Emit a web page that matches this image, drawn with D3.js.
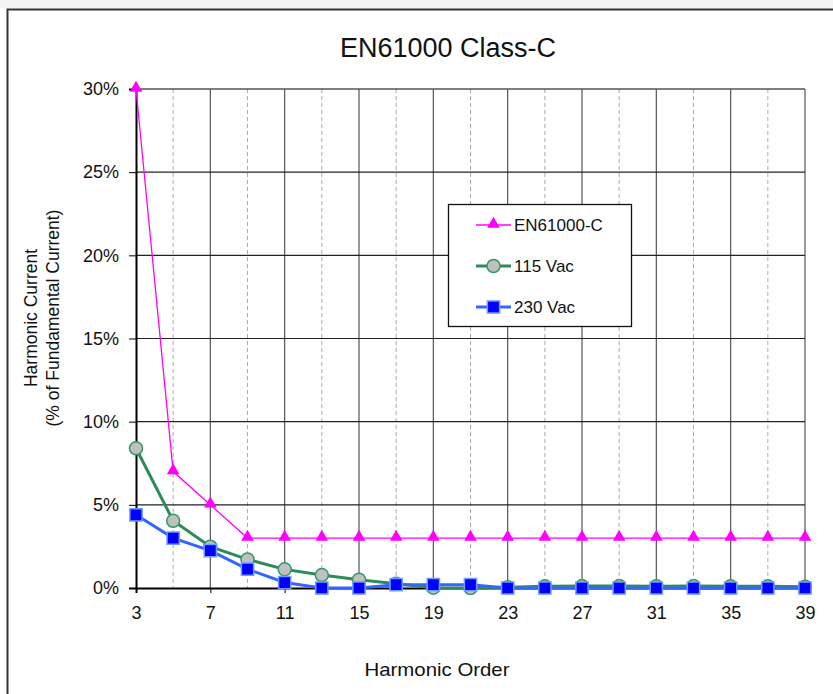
<!DOCTYPE html>
<html><head><meta charset="utf-8">
<script src="https://cdn.jsdelivr.net/npm/d3@7"></script>
<style>html,body{margin:0;padding:0;background:#fff;}svg{display:block;font-family:"Liberation Sans",Arial,sans-serif;}</style>
</head><body><svg id="c" width="833" height="694"></svg>
<script>
const harmonics = [3,5,7,9,11,13,15,17,19,21,23,25,27,29,31,33,35,37,39];
const en61000C = [30,7,5,3,3,3,3,3,3,3,3,3,3,3,3,3,3,3,3];
const vac115 = [8.4,4.04,2.48,1.72,1.12,0.78,0.5,0.25,0.02,0,0.05,0.1,0.12,0.12,0.1,0.12,0.1,0.1,0.08];
const vac230 = [4.4,3.0,2.25,1.13,0.33,0,0,0.2,0.2,0.2,0,0,0,0,0,0,0,0,0];
const xTicks = [3,7,11,15,19,23,27,31,35,39];
const xMinor = [5,9,13,17,21,25,29,33,37];
const yTicks = [0,5,10,15,20,25,30];
const seriesNames = ["EN61000-C","115 Vac","230 Vac"];

const FONT = "Liberation Sans, Arial, sans-serif";
const svg = d3.select("#c");
// page strip + frame
svg.append("rect").attr("x",0).attr("y",0).attr("width",833).attr("height",8).attr("fill","#f3f3f3");
svg.append("path").attr("d","M7.5,694 V9.5 H833").attr("fill","none").attr("stroke","#333").attr("stroke-width",2);

const x = d3.scaleLinear().domain([3,39]).range([136,805]);
const y = d3.scaleLinear().domain([0,30]).range([588,89]);

// grid
const g = svg.append("g");
g.selectAll(".vmin").data(xMinor).join("line")
  .attr("x1",d=>x(d)).attr("x2",d=>x(d)).attr("y1",y(30)).attr("y2",y(0))
  .attr("stroke","#aaa").attr("stroke-width",1).attr("stroke-dasharray","4,3");
g.selectAll(".vmaj").data(xTicks.slice(1)).join("line")
  .attr("x1",d=>x(d)).attr("x2",d=>x(d)).attr("y1",y(30)).attr("y2",y(0))
  .attr("stroke","#555").attr("stroke-width",1.2);
g.selectAll(".h").data(yTicks.slice(1)).join("line")
  .attr("x1",x(3)).attr("x2",x(39)).attr("y1",d=>y(d)).attr("y2",d=>y(d))
  .attr("stroke",(d)=>d===30?"#555":"#222").attr("stroke-width",(d)=>d===30?1.6:1.2);

// axes
const yAxis = d3.axisLeft(y).tickValues(yTicks).tickFormat(d=>d+"%").tickSize(7).tickPadding(10);
const ya = svg.append("g").attr("transform",`translate(${x(3)},0)`).call(yAxis);
ya.select(".domain").attr("stroke","#000").attr("stroke-width",2);
ya.selectAll(".tick line").attr("stroke","#000");
ya.selectAll("text").attr("font-size",18).attr("fill","#111").style("font-family",FONT);

const xAxis = d3.axisBottom(x).tickValues(xTicks).tickSize(5).tickPadding(13);
const xa = svg.append("g").attr("transform",`translate(0,${y(0)})`).call(xAxis);
xa.select(".domain").attr("stroke","#000").attr("stroke-width",2);
xa.selectAll(".tick line").attr("stroke","#000");
xa.selectAll("text").attr("font-size",18).attr("fill","#111").style("font-family",FONT);

// series
const line = d3.line().x((d,i)=>x(harmonics[i])).y(d=>y(d));
const tri = d3.symbol().type(d3.symbolTriangle).size(70);
const sq = d3.symbol().type(d3.symbolSquare).size(150);

function drawEN(sel, xs, ys){
  sel.selectAll(".m").data(xs.map((v,i)=>[v,ys[i]])).join("path")
    .attr("d",tri).attr("transform",d=>`translate(${d[0]},${d[1]-1})`).attr("fill","#ff00ff");
}
function drawCirc(sel, pts){
  sel.selectAll(".m").data(pts).join("circle").attr("cx",d=>d[0]).attr("cy",d=>d[1]).attr("r",6.5)
    .attr("fill","#c0c0c0").attr("stroke","#339966").attr("stroke-width",1.5);
}
function drawSq(sel, pts){
  sel.selectAll(".m").data(pts).join("path").attr("d",sq).attr("transform",d=>`translate(${d[0]},${d[1]})`)
    .attr("fill","#0000ff").attr("stroke","#6f9cff").attr("stroke-width",1.5);
}

svg.append("path").datum(en61000C).attr("d",line).attr("fill","none").attr("stroke","#ff00ff").attr("stroke-width",1.3);
drawEN(svg.append("g"), harmonics.map(h=>x(h)), en61000C.map(v=>y(v)));

svg.append("path").datum(vac115).attr("d",line).attr("fill","none").attr("stroke","#2e8b57").attr("stroke-width",3);
drawCirc(svg.append("g"), harmonics.map((h,i)=>[x(h),y(vac115[i])]));

svg.append("path").datum(vac230).attr("d",line).attr("fill","none").attr("stroke","#3366ff").attr("stroke-width",3);
drawSq(svg.append("g"), harmonics.map((h,i)=>[x(h),y(vac230[i])]));

// legend
const lg = svg.append("g");
lg.append("rect").attr("x",448.5).attr("y",204.5).attr("width",183).attr("height",122)
  .attr("fill","#fff").attr("stroke","#111").attr("stroke-width",1.3);
const ly = [225,266,307];
const lx1 = 476, lx2 = 511;
lg.append("line").attr("x1",lx1).attr("x2",lx2).attr("y1",ly[0]).attr("y2",ly[0]).attr("stroke","#ff00ff").attr("stroke-width",1.3);
drawEN(lg.append("g"), [(lx1+lx2)/2], [ly[0]]);
lg.append("line").attr("x1",lx1).attr("x2",lx2).attr("y1",ly[1]).attr("y2",ly[1]).attr("stroke","#2e8b57").attr("stroke-width",3);
drawCirc(lg.append("g"), [[(lx1+lx2)/2, ly[1]]]);
lg.append("line").attr("x1",lx1).attr("x2",lx2).attr("y1",ly[2]).attr("y2",ly[2]).attr("stroke","#3366ff").attr("stroke-width",3);
drawSq(lg.append("g"), [[(lx1+lx2)/2, ly[2]]]);
lg.selectAll(".lt").data(seriesNames).join("text").attr("x",514).attr("y",(d,i)=>ly[i]+6)
  .attr("font-size",17).attr("fill","#111").text(d=>d);

// titles
svg.append("text").attr("x",448).attr("y",57).attr("text-anchor","middle").attr("font-size",27).attr("fill","#111").text("EN61000 Class-C");
svg.append("text").attr("transform","translate(37,318) rotate(-90)").attr("text-anchor","middle").attr("font-size",17.5).attr("fill","#111").text("Harmonic Current");
svg.append("text").attr("transform","translate(59,318) rotate(-90)").attr("text-anchor","middle").attr("font-size",17.5).attr("fill","#111").text("(% of Fundamental Current)");
svg.append("text").attr("x",437).attr("y",676).attr("text-anchor","middle").attr("font-size",18.5)
  .attr("textLength",145).attr("lengthAdjust","spacingAndGlyphs").attr("fill","#111").text("Harmonic Order");
</script></body></html>
